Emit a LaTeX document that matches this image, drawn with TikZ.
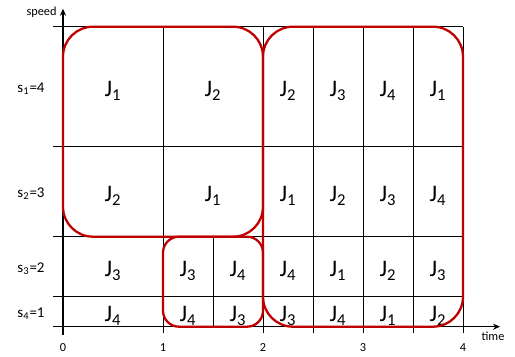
\documentclass[tikz,border=0pt]{standalone}
\usepackage{fontspec}
\setmainfont{Carlito}
\usetikzlibrary{arrows.meta, positioning}
\definecolor{schedRed}{HTML}{C00000}
\tikzset{
  axisline/.style = {-{Stealth[length=4pt, width=3.5pt]}, line width=0.6pt, black},
  gridline/.style = {line width=0.5pt, black},
  block/.style    = {schedRed, line width=1.3pt, rounded corners=#1},
  joblbl/.style   = {font=\fontsize{13.5}{15}\selectfont, yshift=-2.5pt},
  lbl/.style      = {font=\fontsize{8.5}{10}\selectfont},
  slbl/.style     = {font=\fontsize{7}{8}\selectfont},
}
\newcommand{\job}[1]{J\textsubscript{#1}}

\begin{document}
\begin{tikzpicture}[x=2cm, y=0.6cm]
  \useasboundingbox (-0.63,-0.977) rectangle (4.52,10.89);
  % grid of time slots
  \foreach \y in {1,3,6,10} \draw[gridline] (-0.1,\y) -- (4,\y);
  \foreach \x in {1,2,2.5,3,3.5,4} \draw[gridline] (\x,-0.22) -- (\x,10);
  \draw[gridline] (1.5,0) -- (1.5,3);
  % axes
  \draw[axisline] (-0.1,0) -- (4.37,0);
  \draw[axisline] (0,-0.28) -- (0,10.6);
  \node[slbl] (speedlbl) at (-0.215,10.49) {speed};
  \node[slbl] (timelbl) at (4.30,-0.33) {time};
  \foreach \t in {0,...,4} \node[slbl] (tick\t) at (\t,-0.68) {\t};
  % speed levels
  \foreach \s/\v/\y in {1/4/8, 2/3/4.5, 3/2/2, 4/1/0.5}
    \node[lbl, yshift=-1pt] (speed\s) at (-0.32,\y) {s\textsubscript{\s}=\v};
  % jobs per row
  \foreach \x/\j [count=\i] in {0.5/1, 1.5/2, 2.25/2, 2.75/3, 3.25/4, 3.75/1}
    \node[joblbl] (ra\i) at (\x,8) {\job{\j}};
  \foreach \x/\j [count=\i] in {0.5/2, 1.5/1, 2.25/1, 2.75/2, 3.25/3, 3.75/4}
    \node[joblbl] (rb\i) at (\x,4.5) {\job{\j}};
  \foreach \x/\j [count=\i] in {0.5/3, 1.25/3, 1.75/4, 2.25/4, 2.75/1, 3.25/2, 3.75/3}
    \node[joblbl] (rc\i) at (\x,2) {\job{\j}};
  \foreach \x/\j [count=\i] in {0.5/4, 1.25/4, 1.75/3, 2.25/3, 2.75/4, 3.25/1, 3.75/2}
    \node[joblbl] (rd\i) at (\x,0.5) {\job{\j}};
  % frames
  \draw[block=0.6cm] (0,3) rectangle (2,10);
  \draw[block=0.6cm] (2,0) rectangle (4,10);
  \draw[block=0.32cm] (1,0) rectangle (2,3);
\end{tikzpicture}
\end{document}
